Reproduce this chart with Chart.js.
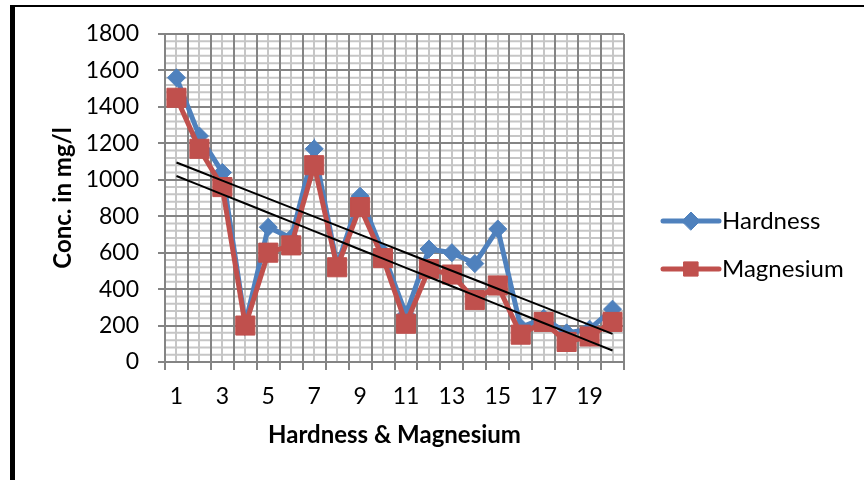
<!DOCTYPE html>
<html>
<head>
<meta charset="utf-8">
<title>Hardness &amp; Magnesium</title>
<script src="https://cdn.jsdelivr.net/npm/chart.js@4"></script>
<style>
  html, body { margin: 0; padding: 0; background: #fff; }
  #wrap { position: relative; width: 864px; height: 480px; overflow: hidden; }
  #frame {
    position: absolute; left: 10px; top: 5px; width: 900px; height: 520px;
    border-left: 5px solid #000; border-top: 2px solid #000; box-sizing: border-box;
  }
  canvas { position: absolute; left: 0; top: 0; }
</style>
</head>
<body>
<div id="wrap">
  <div id="frame"></div>
  <canvas id="chart" width="864" height="480"></canvas>
</div>
<script>
// Sample numbers along the x axis
const categories = ['1','2','3','4','5','6','7','8','9','10','11','12','13','14','15','16','17','18','19','20'];
// Only every other sample number is printed under the axis
const shownXLabels = ['1','3','5','7','9','11','13','15','17','19'];
// Concentrations, mg/l
const hardness  = [1560, 1240, 1040, 210, 740, 680, 1170, 530, 910, 600, 260, 620, 600, 540, 730, 190, 240, 160, 180, 290];
const magnesium = [1450, 1170, 960, 200, 600, 640, 1080, 520, 850, 570, 210, 510, 480, 340, 420, 150, 220, 110, 140, 220];
// Value axis ticks
const yTickValues = [0, 200, 400, 600, 800, 1000, 1200, 1400, 1600, 1800];
const yMinorStep = 40;

const BLUE = '#4F81BD';
const RED = '#C0504D';
const MAJOR = '#848484';
const MINOR = '#c6c6c6';
const FONT = 'Lato';

// Least-squares straight line through a series, evaluated at each sample
function linearTrend(values) {
  const n = values.length;
  let sx = 0, sy = 0, sxx = 0, sxy = 0;
  values.forEach((v, i) => {
    const x = i + 1;
    sx += x; sy += v; sxx += x * x; sxy += x * v;
  });
  const slope = (n * sxy - sx * sy) / (n * sxx - sx * sx);
  const icpt = (sy - slope * sx) / n;
  return values.map((_, i) => icpt + slope * (i + 1));
}

// Light minor grid underneath the major grid
const minorGrid = {
  id: 'minorGrid',
  beforeDraw(chart) {
    const {ctx, chartArea: a, scales: {x, y}} = chart;
    ctx.save();
    ctx.strokeStyle = MINOR;
    ctx.lineWidth = 2;
    ctx.beginPath();
    const top = yTickValues[yTickValues.length - 1];
    for (let v = yMinorStep; v < top; v += yMinorStep) {
      if (yTickValues.includes(v)) continue;
      const py = y.getPixelForValue(v);
      ctx.moveTo(a.left, py); ctx.lineTo(a.right, py);
    }
    categories.forEach((_, i) => {
      const px = Math.round(x.getPixelForValue(i));
      ctx.moveTo(px, a.top); ctx.lineTo(px, a.bottom);
    });
    ctx.stroke();
    ctx.restore();
  }
};

// Legend: line with marker, followed by the series name
const sideLegend = {
  id: 'sideLegend',
  afterDraw(chart) {
    const {ctx} = chart;
    const items = [
      {label: 'Hardness', color: BLUE, style: 'rectRot', r: 9, y: 221},
      {label: 'Magnesium', color: RED, style: 'rect', r: 10, y: 269}
    ];
    const x0 = 663, x1 = 719;
    ctx.save();
    items.forEach(it => {
      ctx.strokeStyle = it.color;
      ctx.lineWidth = 5;
      ctx.lineCap = 'round';
      ctx.beginPath();
      ctx.moveTo(x0, it.y); ctx.lineTo(x1, it.y);
      ctx.stroke();
      ctx.fillStyle = it.color;
      ctx.lineWidth = 1;
      Chart.helpers.drawPoint(ctx, {pointStyle: it.style, radius: it.r, borderWidth: 1}, (x0 + x1) / 2, it.y);
      ctx.fill();
      ctx.fillStyle = '#000';
      ctx.font = `24px ${FONT}`;
      ctx.textAlign = 'left';
      ctx.textBaseline = 'middle';
      ctx.fillText(it.label, 722, it.y);
    });
    ctx.restore();
  }
};

new Chart(document.getElementById('chart'), {
  type: 'line',
  data: {
    labels: categories,
    datasets: [
      {
        label: 'Hardness', data: hardness, order: 3,
        borderColor: BLUE, backgroundColor: BLUE, borderWidth: 5,
        pointStyle: 'rectRot', pointRadius: 9, pointBorderWidth: 1,
        pointBackgroundColor: BLUE, pointBorderColor: BLUE, tension: 0
      },
      {
        label: 'Magnesium', data: magnesium, order: 2,
        borderColor: RED, backgroundColor: RED, borderWidth: 5,
        pointStyle: 'rect', pointRadius: 13.5, pointBorderWidth: 1,
        pointBackgroundColor: RED, pointBorderColor: RED, tension: 0
      },
      {
        label: 'Linear (Hardness)', data: linearTrend(hardness), order: 1,
        borderColor: '#000', borderWidth: 2, pointRadius: 0, tension: 0
      },
      {
        label: 'Linear (Magnesium)', data: linearTrend(magnesium), order: 0,
        borderColor: '#000', borderWidth: 2, pointRadius: 0, tension: 0
      }
    ]
  },
  options: {
    responsive: false,
    animation: false,
    devicePixelRatio: 1,
    layout: { padding: { left: 0, top: 34, right: 240, bottom: 0 } },
    plugins: { legend: { display: false }, tooltip: { enabled: false } },
    scales: {
      x: {
        type: 'category',
        offset: true,
        grid: { offset: true, color: MAJOR, lineWidth: 2, tickLength: 8 },
        border: { color: MAJOR, width: 2 },
        ticks: {
          autoSkip: false, maxRotation: 0, minRotation: 0, padding: 13, color: '#000',
          font: { family: FONT, size: 23 },
          callback(v, i) { const l = categories[i]; return shownXLabels.includes(l) ? l : ''; }
        },
        title: {
          display: true, text: 'Hardness & Magnesium', color: '#000',
          font: { family: FONT, size: 24, weight: 'bold' },
          padding: { top: 0, bottom: 30 }
        },
        afterFit(s) { s.height = 118; }
      },
      y: {
        min: yTickValues[0],
        max: yTickValues[yTickValues.length - 1],
        grid: { color: MAJOR, lineWidth: 2, tickLength: 7 },
        border: { color: MAJOR, width: 2 },
        afterBuildTicks(s) { s.ticks = yTickValues.map(v => ({value: v})); },
        ticks: {
          padding: 19, color: '#000', font: { family: FONT, size: 23 },
          callback(v) { return String(v); }
        },
        title: {
          display: true, text: 'Conc. in mg/l', color: '#000',
          font: { family: FONT, size: 24, weight: 'bold' },
          padding: { top: 49, bottom: 0 }
        },
        afterFit(s) { s.width = 165; }
      }
    }
  },
  plugins: [minorGrid, sideLegend]
});
</script>
</body>
</html>
